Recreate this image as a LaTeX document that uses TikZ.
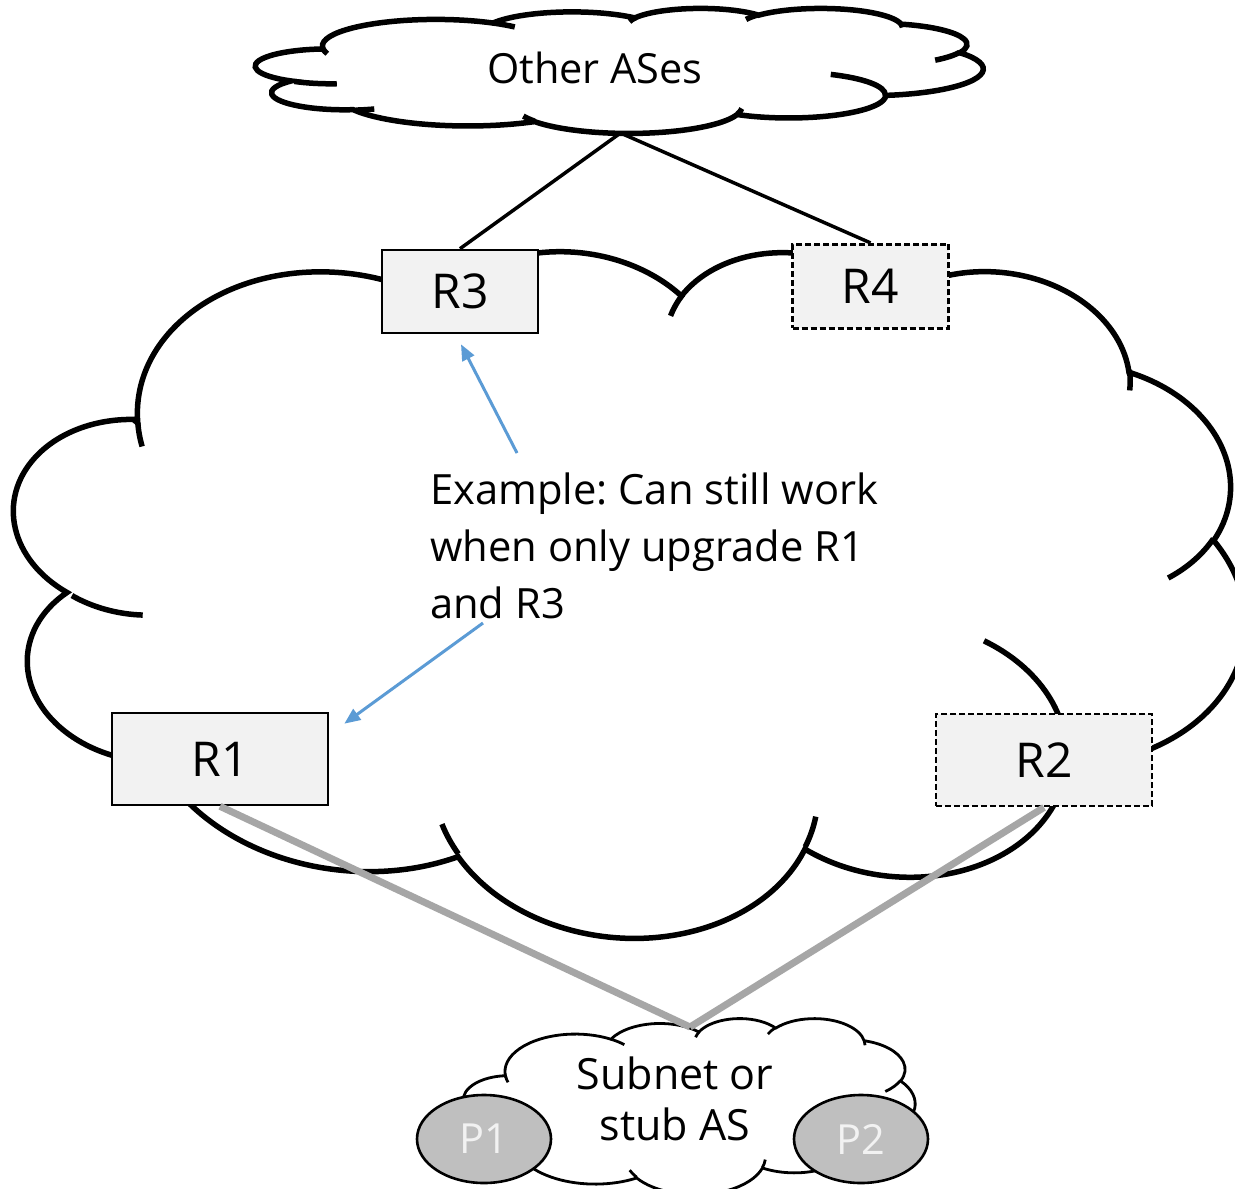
\documentclass[tikz,border=0pt]{standalone}
\usepackage{fontspec}
\setmainfont{Open Sans}
\usetikzlibrary{arrows.meta,calc,shapes.geometric}
\definecolor{boxfill}{HTML}{F2F2F2}
\definecolor{arrowblue}{HTML}{5B9BD5}
\definecolor{linkgrey}{HTML}{A6A6A6}
\definecolor{hostgrey}{HTML}{BFBFBF}
\definecolor{hosttext}{HTML}{F2F2F2}
\newcommand\myRfont{\fontsize{48}{58}\selectfont}
\newcommand\myTfont{\fontsize{41.5}{51}\selectfont}
\newcommand\myNfont{\fontsize{41.7}{57}\selectfont}
\newcommand\mySfont{\fontsize{43}{51}\selectfont}

% elliptical arc of the cloud outline: geometric angles converted to parametric ones
\newcommand\defcloudarc[5]{%
  \pgfmathsetmacro\ctA{atan2((#2)*sin(#4),(#3)*cos(#4))}%
  \pgfmathsetmacro\ctB{atan2((#2)*sin((#4)+(#5)),(#3)*cos((#4)+(#5)))}%
  \pgfmathsetmacro\ctD{mod((\ctB)-(\ctA)+720,360)}%
  \edef\ctTmp{\noexpand\tikzset{#1/.style={x radius=#2,y radius=#3,start angle=\ctA,delta angle=\ctD}}}%
  \ctTmp}
\defcloudarc{ca1}{6.753}{9.190}{-190.48748}{123.78053}
\defcloudarc{ca2}{5.333}{7.267}{-144.10238}{89.94523}
\defcloudarc{ca3}{4.365}{5.945}{-145.80792}{99.72302}
\defcloudarc{ca4}{4.857}{6.595}{-130.98607}{117.24173}
\defcloudarc{ca5}{5.333}{7.273}{-78.70888}{109.02692}
\defcloudarc{ca6}{6.775}{9.220}{-46.26725}{130.26900}
\defcloudarc{ca7}{5.785}{7.867}{0.62502}{114.03333}
\defcloudarc{ca8}{6.752}{9.215}{22.45160}{115.17255}
\defcloudarc{ca9}{7.720}{10.543}{66.24263}{78.04397}
\defcloudarc{ca10}{4.360}{5.918}{-274.94208}{146.73557}
\defcloudarc{ca11}{4.345}{5.945}{-246.82850}{152.51885}
\defcloudarc{ch1}{4.345}{5.945}{86.74200}{26.42950}
\defcloudarc{ch2}{4.360}{5.918}{73.61047}{11.44747}
\defcloudarc{ch3}{6.752}{9.215}{137.62415}{14.08110}
\defcloudarc{ch4}{6.752}{9.215}{6.45327}{15.99835}
\defcloudarc{ch5}{5.785}{7.867}{-70.29235}{70.91737}
\defcloudarc{ch6}{5.333}{7.273}{30.31803}{27.75150}
\defcloudarc{ch7}{4.857}{6.595}{-13.74433}{14.86223}
\defcloudarc{ch8}{4.857}{6.595}{-149.18145}{18.19537}
\defcloudarc{ch9}{4.365}{5.945}{-163.49427}{17.68635}
\defcloudarc{ch10}{6.753}{9.190}{-66.70695}{12.31935}
\defcloudarc{ch11}{6.753}{9.190}{157.65435}{11.85817}

\newcommand\cloudmain{(3.9,14.37) arc[ca1] arc[ca2] arc[ca3] arc[ca4] arc[ca5] arc[ca6] arc[ca7] arc[ca8] arc[ca9] arc[ca10] arc[ca11] -- cycle}
\newcommand\cloudhooks{(4.693,26.177) arc[ch1] (6.928,34.899) arc[ch2] (16.478,39.09) arc[ch3] (28.827,34.751) arc[ch4] (34.129,22.954) arc[ch5] (41.798,15.354) arc[ch6] (38.324,5.426) arc[ch7] (29.078,3.952) arc[ch8] (22.141,4.72) arc[ch9] (14,5.192) arc[ch10] (4.127,15.789) arc[ch11]}
% #1 cx, #2 cy, #3 width, #4 height, #5 rotation, #6 line options
\newcommand\drawcloud[6]{%
  \pgfmathsetmacro\cwu{(#3)/43.2}%
  \pgfmathsetmacro\chu{(#4)/43.2}%
  \begin{scope}[shift={(#1,#2)},rotate=#5,x=\cwu pt,y=-\chu pt,shift={(-21.6,-21.6)}]
    \draw[#6,fill=white] \cloudmain;
    \draw[#6] \cloudhooks;
  \end{scope}}

\begin{document}
\frenchspacing
\begin{tikzpicture}[x=1pt,y=-1pt,
  cloudframe/.style={inner sep=0pt,outer sep=0pt},
  rbox/.style={draw=black,line width=2.6pt,fill=boxfill,inner sep=0pt,font=\myRfont},
  rdash/.style={rbox,line width=2.8pt,dash pattern=on 6pt off 3pt},
  uplink/.style={line width=3.5pt,black},
  stublink/.style={line width=7pt,linkgrey},
  notearrow/.style={line width=3pt,arrowblue,-{Triangle[length=16pt,width=13pt]}},
  hostnode/.style={ellipse,draw=black,line width=2.6pt,fill=hostgrey,text=hosttext,minimum width=134pt,minimum height=88pt,inner sep=0pt,font=\myTfont}]
\fill[white] (0,0) rectangle (1235,1189);
\useasboundingbox (0,0) rectangle (1235,1189);
% the AS
\drawcloud{630}{586}{1233}{698}{-5.3}{line width=5.5pt}
% other ASes
\node[cloudframe,minimum width=725pt,minimum height=125pt] (topAS) at (620.5,70.5) {};
\drawcloud{620.5}{70.5}{725}{125}{0}{line width=5.5pt}
\node[font=\myTfont] (otherlbl) at (595,68) {Other ASes};
% subnet
\node[cloudframe,minimum width=450pt,minimum height=176pt] (subAS) at (690,1106) {};
\drawcloud{690}{1106}{450}{176}{0}{line width=2.8pt}
\node[font=\mySfont,align=center] (sublbl) at (675,1099) {Subnet or\\stub AS};
\coordinate (subtop) at (690,1027);
% routers
\node[rbox,minimum width=156pt,minimum height=83pt] (R3) at (460,291.5) {R3};
\node[rdash,minimum width=156pt,minimum height=84pt] (R4) at (870.5,286.3) {R4};
\node[rbox,minimum width=216pt,minimum height=92pt] (R1) at (220,759) {R1};
\node[rdash,minimum width=216pt,minimum height=92pt] (R2) at (1044,760) {R2};
% links
\draw[uplink] (topAS.south) -- (R3.north);
\draw[uplink] (topAS.south) -- (R4.north);
\draw[stublink] (R1.south) -- (subtop);
\draw[stublink] (R2.south) -- (subtop);
% hosts
\node[hostnode] (P1) at (484,1139) {P1};
\node[hostnode] (P2) at (861,1139) {P2};
% note
\node[font=\myNfont,align=left,anchor=north west,inner sep=0pt] (note) at (430,473) {Example: Can still work\\when only upgrade R1\\and R3};
\coordinate (c1) at (517,453);
\coordinate (c2) at (483,623);
\draw[notearrow] (c1) -- ($(R3.south)+(1,10)$);
\draw[notearrow] (c2) -- ($(R1.north east)+(15,12)$);
\end{tikzpicture}
\end{document}
